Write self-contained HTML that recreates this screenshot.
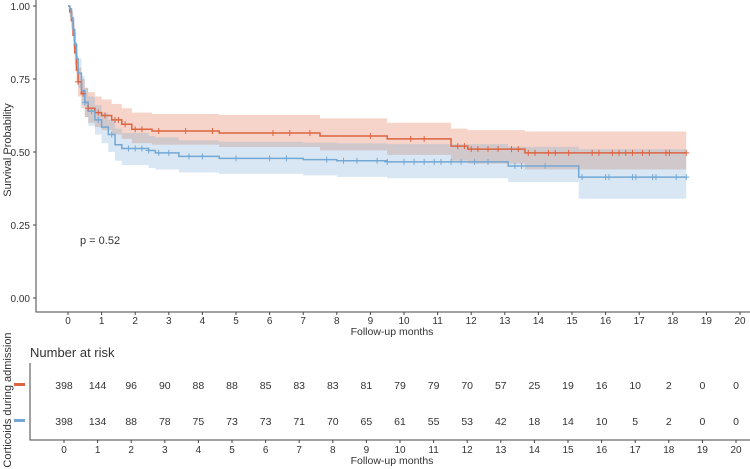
<!DOCTYPE html>
<html><head><meta charset="utf-8"><style>
html,body{margin:0;padding:0;background:#fff;width:750px;height:469px;overflow:hidden}
svg text{font-family:"Liberation Sans",Arial,sans-serif;fill:#333}
</style></head><body>
<svg id="chart" width="750" height="469" viewBox="0 0 750 469"></svg>
<script>
const ticksX=[0,1,2,3,4,5,6,7,8,9,10,11,12,13,14,15,16,17,18,19,20];
const ticksY=[0,0.25,0.5,0.75,1];
const redT=[0,0.05,0.1,0.15,0.2,0.25,0.3,0.4,0.5,0.6,0.8,1.0,1.3,1.6,1.9,2.5,4.5,7.5,9.5,11.4,11.9,13.6];
const redS=[1,0.98,0.95,0.9,0.84,0.78,0.74,0.7,0.67,0.65,0.635,0.625,0.61,0.595,0.578,0.572,0.565,0.555,0.545,0.52,0.51,0.497];
const redLo=[1,0.96,0.92,0.86,0.8,0.74,0.69,0.65,0.62,0.6,0.585,0.575,0.56,0.545,0.53,0.525,0.517,0.505,0.49,0.47,0.46,0.44];
const redHi=[1,0.995,0.98,0.94,0.88,0.83,0.79,0.75,0.72,0.705,0.69,0.68,0.665,0.65,0.635,0.63,0.627,0.615,0.6,0.58,0.575,0.57];
const redEnd=18.4;
const blueT=[0,0.05,0.1,0.15,0.2,0.25,0.3,0.4,0.5,0.6,0.8,1.0,1.2,1.4,1.6,2.4,2.6,3.3,4.5,7,8,9.5,13.1,15.2];
const blueS=[1,0.99,0.96,0.92,0.87,0.82,0.77,0.71,0.67,0.64,0.61,0.585,0.56,0.525,0.512,0.505,0.497,0.485,0.478,0.474,0.47,0.466,0.452,0.414];
const blueLo=[1,0.97,0.93,0.88,0.83,0.77,0.72,0.66,0.62,0.59,0.56,0.53,0.5,0.47,0.455,0.445,0.44,0.43,0.425,0.42,0.415,0.41,0.397,0.34];
const blueHi=[1,1,0.99,0.96,0.91,0.87,0.82,0.76,0.72,0.69,0.66,0.635,0.61,0.58,0.565,0.555,0.55,0.54,0.535,0.532,0.53,0.527,0.518,0.51];
const blueEnd=18.4;
const redCens=[0.3,0.45,0.6,0.9,1.1,1.4,1.5,1.7,2.0,2.2,2.7,3.5,4.3,6.1,6.6,7.2,9.0,10.2,10.6,11.6,11.8,12.0,12.2,12.5,12.8,13.2,13.4,13.7,13.9,14.3,14.5,14.9,15.6,15.8,16.2,16.4,16.6,16.8,17.1,17.3,17.8,17.9,18.4];
const blueCens=[0.5,0.7,0.9,1.3,1.8,2.0,2.2,2.4,2.7,3.0,3.6,4.0,5.0,6.0,6.5,7.7,8.2,8.6,9.2,9.5,10.0,10.3,10.6,10.9,11.1,11.4,11.7,12.1,12.5,13.3,13.5,14.2,15.3,16.0,16.1,16.8,16.9,17.4,17.5,18.1,18.4];
const riskRed=[398,144,96,90,88,88,85,83,83,81,79,79,70,57,25,19,16,10,2,0,0];
const riskBlue=[398,134,88,78,75,73,73,71,70,65,61,55,53,42,18,14,10,5,2,0,0];
const RED="#DD6440", BLUE="#74A8D4";
const xs=t=>68+33.6*t, ys=v=>298-292*v;
const svg=document.getElementById('chart');
const NS="http://www.w3.org/2000/svg";
function mk(tag,attrs,parent){const e=document.createElementNS(NS,tag);for(const k in attrs)e.setAttribute(k,attrs[k]);(parent||svg).appendChild(e);return e;}
function stepPts(T,S,end){let p=[];for(let i=0;i<T.length;i++){if(i>0)p.push([xs(T[i]),ys(S[i-1])]);p.push([xs(T[i]),ys(S[i])]);}p.push([xs(end),ys(S[S.length-1])]);return p;}
function band(T,lo,hi,end,color,name){const a=stepPts(T,hi,end),b=stepPts(T,lo,end).reverse();
 const e=mk('path',{d:'M'+a.concat(b).map(p=>p.join(',')).join('L')+'Z',fill:color,'fill-opacity':0.28,stroke:'none'});
 
 }
function line(T,S,end,color,name){const e=mk('path',{d:'M'+stepPts(T,S,end).map(p=>p.join(',')).join('L'),fill:'none',stroke:color,'stroke-width':1.5});
 
 }
function sAt(T,S,t){let v=S[0];for(let i=0;i<T.length;i++)if(T[i]<=t)v=S[i];return v;}
function cens(T,S,C,color,name){const g=mk('g',{stroke:color,'stroke-width':1});
 
 
 C.forEach(t=>{const x=xs(t),y=ys(sAt(T,S,t));mk('path',{d:`M${x-3},${y}H${x+3}M${x},${y-3}V${y+3}`},g);});}
band(redT,redLo,redHi,redEnd,RED,'red-ci-band');
band(blueT,blueLo,blueHi,blueEnd,BLUE,'blue-ci-band');
line(redT,redS,redEnd,RED,'red-survival-curve');
line(blueT,blueS,blueEnd,BLUE,'blue-survival-curve');
cens(redT,redS,redCens,RED,'red-censor-marks');
cens(blueT,blueS,blueCens,BLUE,'blue-censor-marks');
// axes
let ax=mk('path',{d:'M36,0V312H750',fill:'none',stroke:'#444','stroke-width':1});


ticksY.forEach(v=>{mk('line',{x1:33,x2:36,y1:ys(v),y2:ys(v),stroke:'#444'});
 const t=mk('text',{x:30,y:ys(v)+4,'text-anchor':'end','font-size':10});t.textContent=v.toFixed(2);
 
 });
ticksX.forEach(v=>{mk('line',{x1:xs(v),x2:xs(v),y1:312,y2:315,stroke:'#444'});
 const t=mk('text',{x:xs(v),y:324,'text-anchor':'middle','font-size':10});t.textContent=v;
 
 });
let t1=mk('text',{x:392,y:335,'text-anchor':'middle','font-size':10.5});t1.textContent='Follow-up months';


let t2=mk('text',{x:0,y:0,'text-anchor':'middle','font-size':11,transform:'translate(11,150) rotate(-90)'});t2.textContent='Survival Probability';


let pv=mk('text',{x:80,y:244,'font-size':11});pv.textContent='p = 0.52';


// risk table
let rt=mk('text',{x:30,y:357,'font-size':13});rt.textContent='Number at risk';


let ax2=mk('path',{d:'M30,363V440H750',fill:'none',stroke:'#444','stroke-width':1});


const rx=i=>64+33.6*i;
ticksX.forEach(v=>{mk('line',{x1:rx(v),x2:rx(v),y1:440,y2:443,stroke:'#444'});
 const t=mk('text',{x:rx(v),y:453,'text-anchor':'middle','font-size':10});t.textContent=v;
 
 });
let t3=mk('text',{x:392,y:464,'text-anchor':'middle','font-size':10.5});t3.textContent='Follow-up months';


[[riskRed,385,RED,'risk-row-red'],[riskBlue,421,BLUE,'risk-row-blue']].forEach(([arr,y,c,n])=>{
 const g=mk('g',{});
 mk('rect',{x:14,y:y-2,width:11,height:3,fill:c},g);
 arr.forEach((v,i)=>{const t=mk('text',{x:rx(i),y:y+4,'text-anchor':'middle','font-size':10.5},g);t.textContent=v;});});
let t4=mk('text',{x:0,y:0,'text-anchor':'middle','font-size':11,transform:'translate(11,400) rotate(-90)'});t4.textContent='Corticoids during admission';


</script>
</body></html>
